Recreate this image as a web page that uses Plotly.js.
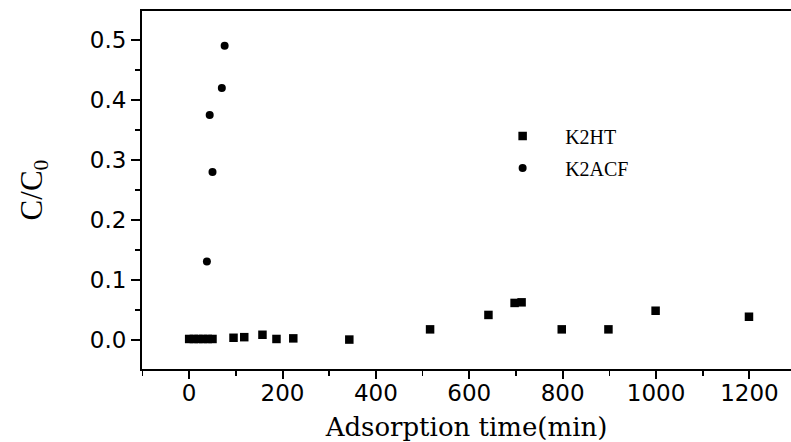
<!DOCTYPE html>
<html>
<head>
<meta charset="utf-8">
<script src="https://cdn.plot.ly/plotly-3.0.1.min.js"></script>
<style>html,body{margin:0;padding:0;background:#fff;}#chart{width:791px;height:442px;}</style>
</head>
<body>
<div id="chart"></div>
<script>
// K2HT series (squares)
var k2htTime = [0, 10, 20, 30, 40, 50, 95, 118, 157, 187, 223, 343, 516, 641, 697, 712, 798, 898, 999, 1199];
var k2htC = [0.002, 0.002, 0.002, 0.002, 0.002, 0.002, 0.004, 0.005, 0.009, 0.002, 0.003, 0.001, 0.018, 0.042, 0.062, 0.063, 0.018, 0.018, 0.049, 0.039];
// K2ACF series (circles)
var k2acfTime = [0, 10, 20, 30, 38, 44, 50, 70, 76];
var k2acfC = [0.002, 0.002, 0.002, 0.002, 0.131, 0.375, 0.28, 0.42, 0.49];
// tick labels
var xTicks = [0, 200, 400, 600, 800, 1000, 1200];
var yTicks = [0.0, 0.1, 0.2, 0.3, 0.4, 0.5];
var yTickText = ['0.0', '0.1', '0.2', '0.3', '0.4', '0.5'];

var traces = [
  {x: k2htTime, y: k2htC, name: 'K2HT', type: 'scatter', mode: 'markers', legendgroup: 'a',
   marker: {symbol: 'square', size: 8.5, color: '#000'}},
  {x: k2acfTime, y: k2acfC, name: 'K2ACF', type: 'scatter', mode: 'markers', legendgroup: 'b',
   marker: {symbol: 'circle', size: 8, color: '#000'}}
];

var layout = {
  width: 791, height: 442,
  margin: {l: 142, r: 0, t: 11, b: 73, pad: 0},
  paper_bgcolor: '#fff', plot_bgcolor: '#fff',
  showlegend: true,
  legend: {x: 0.521, y: 0.705, xanchor: 'left', yanchor: 'top', bgcolor: 'rgba(0,0,0,0)',
           font: {family: 'Liberation Serif', size: 20, color: '#000'},
           tracegroupgap: 3, itemwidth: 75},
  xaxis: {
    range: [-101, 1289], tickmode: 'array', tickvals: xTicks, ticktext: xTicks.map(String),
    showgrid: false, zeroline: false, showline: true, linecolor: '#000', linewidth: 2, mirror: true,
    ticks: 'outside', ticklen: 8, tickwidth: 2, tickcolor: '#000', ticklabelstandoff: -6,
    minor: {dtick: 100, tick0: 0, ticks: 'outside', ticklen: 5, tickwidth: 1.5, tickcolor: '#000', showgrid: false},
    tickfont: {family: 'DejaVu Sans', size: 23, color: '#000'},
    title: {text: 'Adsorption time(min)', font: {family: 'DejaVu Serif', size: 26, color: '#000'}, standoff: 14}
  },
  yaxis: {
    range: [-0.048, 0.548], tickmode: 'array', tickvals: yTicks, ticktext: yTickText,
    showgrid: false, zeroline: false, showline: true, linecolor: '#000', linewidth: 2, mirror: false,
    ticks: 'outside', ticklen: 9, tickwidth: 2, tickcolor: '#000',
    minor: {dtick: 0.05, tick0: 0, ticks: 'outside', ticklen: 5, tickwidth: 1.5, tickcolor: '#000', showgrid: false},
    tickfont: {family: 'DejaVu Sans', size: 23, color: '#000'},
    title: {text: 'C/C<sub>0</sub>', font: {family: 'Liberation Serif', size: 31, color: '#000'}, standoff: 38}
  }
};

Plotly.newPlot('chart', traces, layout, {displayModeBar: false, staticPlot: true});
</script>
</body>
</html>
